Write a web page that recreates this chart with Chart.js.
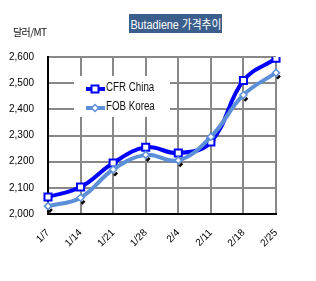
<!DOCTYPE html>
<html>
<head>
<meta charset="utf-8">
<script src="https://cdn.jsdelivr.net/npm/chart.js@4/dist/chart.umd.min.js"></script>
<style>
  html, body { margin: 0; padding: 0; background: #fff; }
  #wrap { position: relative; width: 316px; height: 281px; overflow: hidden; }
  #c { position: absolute; left: 0; top: 0; }
  .title {
    position: absolute; left: 129px; top: 14px; width: 93px; height: 19px;
    background: #3b5e8c; color: #fff; line-height: 19px; text-align: center; white-space: nowrap; overflow: hidden;
  }
  .title span { display: inline-block; font: 12.5px "Liberation Sans", "Noto Sans CJK KR", sans-serif; transform: scaleX(0.86); transform-origin: center; margin: 0 -20px; }
  .unit { position: absolute; left: 13px; top: 24px; font: 10px "Noto Sans CJK KR", sans-serif; color: #111; letter-spacing: -0.6px; }
  .legend { position: absolute; left: 74px; top: 76px; width: 96px; height: 41px; background: #fff; }
  .legend div { position: absolute; left: 32px; font: 12.5px "Liberation Sans", sans-serif; color: #111; white-space: nowrap; transform: scaleX(0.78); transform-origin: left center; }
  .legend canvas { position: absolute; left: 0; top: 0; }
</style>
</head>
<body>
<div id="wrap">
  <canvas id="c" width="316" height="281"></canvas>
  <div class="title"><span>Butadiene 가격추이</span></div>
  <div class="unit">달러/MT</div>
  <div class="legend">
    <canvas id="lg" width="40" height="41"></canvas>
    <div style="top:4px">CFR China</div>
    <div style="top:23px">FOB Korea</div>
  </div>
</div>
<script>
// 주간 날짜
const weeks = ['1/7', '1/14', '1/21', '1/28', '2/4', '2/11', '2/18', '2/25'];
// 달러/MT
const cfrChina = [2065, 2103, 2195, 2255, 2233, 2275, 2510, 2595];
const fobKorea = [2030, 2062, 2170, 2226, 2205, 2295, 2455, 2540];
const yTicks = [2000, 2100, 2200, 2300, 2400, 2500, 2600];

const CFR_COLOR = '#0000ff';
const FOB_COLOR = '#5b8fd8';
const tickFont = { family: '"Liberation Sans", sans-serif', size: 10 };

// 포인트 그림자 (작은 검은 표시)
const shadowPlugin = {
  id: 'shadow',
  beforeDatasetsDraw(chart) {
    const ctx = chart.ctx;
    const meta = chart.getDatasetMeta(1);
    ctx.save();
    ctx.strokeStyle = '#000';
    ctx.lineWidth = 2.5;
    meta.data.forEach(p => {
      ctx.beginPath();
      ctx.moveTo(p.x + 1, p.y + 6);
      ctx.lineTo(p.x + 4, p.y + 3);
      ctx.stroke();
    });
    ctx.restore();
  }
};

new Chart(document.getElementById('c'), {
  type: 'line',
  data: {
    labels: weeks,
    datasets: [
      { label: 'CFR China', data: cfrChina, borderColor: CFR_COLOR, borderWidth: 4, tension: 0.4,
        pointStyle: 'rect', pointRadius: 5, pointBorderWidth: 2, pointBackgroundColor: '#fff', pointBorderColor: CFR_COLOR, order: 1 },
      { label: 'FOB Korea', data: fobKorea, borderColor: FOB_COLOR, borderWidth: 4, tension: 0.4,
        pointStyle: 'rectRot', pointRadius: 3.5, pointBorderWidth: 1.5, pointBackgroundColor: '#fff', pointBorderColor: FOB_COLOR, order: 0 },
    ]
  },
  options: {
    responsive: false,
    animation: false,
    layout: { padding: { left: 0, top: 57, right: 40, bottom: 0 } },
    plugins: { legend: { display: false }, tooltip: { enabled: false } },
    scales: {
      x: {
        offset: false,
        grid: { color: '#888', lineWidth: 2, drawTicks: false },
        border: { color: '#000', width: 2 },
        ticks: { color: '#000', font: tickFont, minRotation: 45, maxRotation: 45, padding: 13 },
        afterFit(s) { s.height = 67; }
      },
      y: {
        min: 2000, max: 2600,
        afterBuildTicks(s) { s.ticks = yTicks.map(v => ({ value: v })); },
        grid: { color: '#888', lineWidth: 2, drawTicks: false },
        border: { color: '#000', width: 2 },
        ticks: { color: '#000', font: tickFont, padding: 14, callback: v => v.toLocaleString('en-US') },
        afterFit(s) { s.width = 48; }
      }
    }
  },
  plugins: [shadowPlugin]
});

// 범례 마커
const lg = document.getElementById('lg').getContext('2d');
function legendRow(y, color, rot) {
  lg.strokeStyle = color; lg.lineWidth = 4;
  lg.beginPath(); lg.moveTo(12, y); lg.lineTo(31, y); lg.stroke();
  lg.fillStyle = '#fff'; lg.strokeStyle = color;
  lg.save(); lg.translate(21, y);
  if (rot) { lg.rotate(Math.PI / 4); lg.lineWidth = 1.5; lg.fillRect(-2.5, -2.5, 5, 5); lg.strokeRect(-2.5, -2.5, 5, 5); }
  else { lg.lineWidth = 2; lg.fillRect(-3.5, -3.5, 7, 7); lg.strokeRect(-3.5, -3.5, 7, 7); }
  lg.restore();
}
legendRow(13, CFR_COLOR, false);
legendRow(32, FOB_COLOR, true);
</script>
</body>
</html>
